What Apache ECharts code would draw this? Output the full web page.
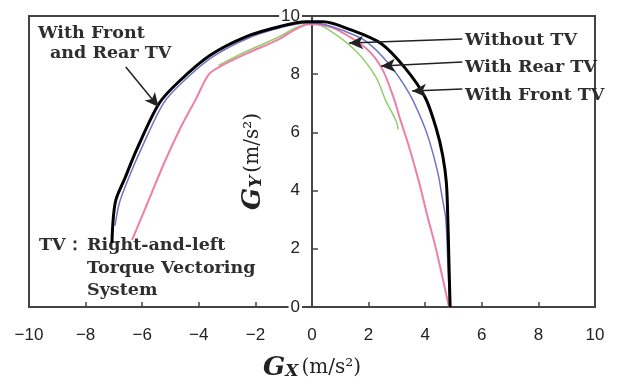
<!DOCTYPE html>
<html>
<head>
<meta charset="utf-8">
<style>
  html, body { margin: 0; padding: 0; background: #fff; }
  #chart { width: 620px; height: 384px; }
</style>
<script src="https://cdn.jsdelivr.net/npm/echarts@6/dist/echarts.min.js"></script>
</head>
<body>
<div id="chart"></div>
<script>
// Friction-circle envelopes: longitudinal Gx vs lateral Gy (m/s^2)
const xTicks = [-10, -8, -6, -4, -2, 0, 2, 4, 6, 8, 10];
const yTicks = [0, 2, 4, 6, 8, 10];

// With Front and Rear TV
const frontRearGx = [-7.07, -6.95, -6.6, -6.2, -5.4, -4.7, -3.6, -2.3, -1.1, -0.2, 0.4, 1.3, 2.45, 3.3, 4.0, 4.4, 4.62, 4.75, 4.8, 4.84, 4.88];
const frontRearGy = [2.2, 3.6, 4.45, 5.4, 7.0, 7.75, 8.65, 9.3, 9.65, 9.8, 9.8, 9.55, 9.05, 8.2, 7.2, 6.1, 5.2, 4.25, 3.0, 1.5, 0];

// With Front TV
const frontGx = [-6.96, -6.8, -6.45, -6.05, -5.25, -4.55, -3.5, -2.3, -1.1, -0.2, 0.4, 1.1, 1.9, 2.72, 3.43, 3.89, 4.15, 4.45, 4.6, 4.73, 4.8, 4.87];
const frontGy = [2.8, 3.6, 4.5, 5.4, 7.0, 7.75, 8.6, 9.22, 9.6, 9.76, 9.72, 9.5, 9.14, 8.35, 7.35, 6.4, 5.7, 4.6, 3.77, 3.0, 1.5, 0];

// With Rear TV
const rearGx = [-6.36, -5.8, -5.2, -4.65, -4.1, -3.64, -3.18, -2.33, -1.17, -0.57, -0.1, 0.4, 0.95, 1.9, 2.47, 2.9, 3.1, 3.4, 3.78, 4.06, 4.38, 4.84];
const rearGy = [2.3, 3.6, 5.0, 6.15, 7.15, 8.0, 8.3, 8.7, 9.2, 9.55, 9.72, 9.68, 9.5, 8.9, 8.2, 7.15, 6.5, 5.6, 4.3, 3.2, 2.0, 0];

// Without TV
const withoutGx = [-3.3, -2.33, -1.17, -0.57, 0.0, 0.5, 1.55, 2.26, 2.6, 2.97, 3.05];
const withoutGy = [8.3, 8.78, 9.28, 9.6, 9.76, 9.58, 8.8, 7.9, 7.1, 6.4, 6.1];

// Leader arrows (tail, head) in data units
const arrowTails = [[-6.58, 8.25], [5.31, 9.21], [5.31, 8.42], [5.31, 7.49]];
const arrowHeads = [[-5.42, 6.87], [1.31, 9.07], [2.44, 8.28], [3.54, 7.42]];

const pairs = (xs, ys) => xs.map((x, i) => [x, ys[i]]);

const serif = '"DejaVu Serif", serif';
const sans = '"Liberation Sans", Arial, sans-serif';
const ink = '#2e2e2e';

const W = 620, gridLeft = 29, gridRight = 25;
const xMin = xTicks[0], xMax = xTicks[xTicks.length - 1];
// shift the vertical axis from the left edge of the plot to Gx = 0
const yAxisShift = -(W - gridLeft - gridRight) * (0 - xMin) / (xMax - xMin);

const chart = echarts.init(document.getElementById('chart'), null, { renderer: 'canvas' });

const lineSeries = (name, xs, ys, color, width) => ({
  name, type: 'line', data: pairs(xs, ys),
  showSymbol: false, smooth: 0.3, animation: false, silent: true,
  lineStyle: { color, width }, z: 2
});

const blackSeries = lineSeries('With Front and Rear TV', frontRearGx, frontRearGy, '#000', 3);
blackSeries.markLine = {
  silent: true, animation: false,
  symbol: ['none', 'arrow'], symbolSize: [10, 14],
  lineStyle: { color: '#222', width: 1.5, type: 'solid' },
  label: { show: false },
  data: arrowTails.map((t, i) => [{ coord: t }, { coord: arrowHeads[i] }])
};

const nameRich = {
  g: { fontFamily: serif, fontStyle: 'italic', fontWeight: 'bold', fontSize: 26, color: '#222' },
  x: { fontFamily: serif, fontStyle: 'italic', fontWeight: 'bold', fontSize: 17, color: '#222', padding: [7, 3, 0, 0] },
  u: { fontFamily: serif, fontSize: 20, color: '#222' }
};

chart.setOption({
  backgroundColor: '#fff',
  animation: false,
  grid: {
    left: gridLeft, right: gridRight, top: 16, bottom: 77,
    containLabel: false, outerBoundsMode: 'none',
    show: true, borderColor: '#444', borderWidth: 2, backgroundColor: 'transparent'
  },
  xAxis: {
    type: 'value', min: xMin, max: xMax, interval: 2,
    axisLine: { show: false },
    axisTick: { show: true, inside: true, length: 5, lineStyle: { color: '#444', width: 1.5 } },
    splitLine: { show: false },
    axisLabel: {
      margin: 20, color: '#222', fontFamily: sans, fontSize: 17,
      formatter: v => String(v).replace('-', '\u2212')
    },
    name: '{g|G}{x|X}{u|(m/s²)}',
    nameLocation: 'middle', nameGap: 48,
    nameTextStyle: { rich: nameRich }
  },
  yAxis: {
    type: 'value', min: yTicks[0], max: yTicks[yTicks.length - 1], interval: 2,
    position: 'left', offset: yAxisShift,
    axisLine: { show: true, onZero: false, lineStyle: { color: '#444', width: 2 } },
    axisTick: { show: true, inside: true, length: 6, lineStyle: { color: '#444', width: 1.5 } },
    splitLine: { show: false },
    axisLabel: {
      margin: 10, color: '#222', fontFamily: sans, fontSize: 17,
      backgroundColor: '#fff', padding: [0, 2]
    },
    name: '{g|G}{x|Y}{u|(m/s²)}',
    nameLocation: 'middle', nameGap: 46, nameRotate: 90,
    nameTextStyle: { rich: nameRich }
  },
  series: [
    lineSeries('Without TV', withoutGx, withoutGy, '#8fd06a', 1.5),
    lineSeries('With Rear TV', rearGx, rearGy, '#ee80a8', 2),
    lineSeries('With Front TV', frontGx, frontGy, '#6f74c4', 1.5),
    blackSeries
  ],
  graphic: [
    { type: 'text', left: 38, top: 24, style: { text: 'With Front', font: `bold 17.5px ${serif}`, fill: ink } },
    { type: 'text', left: 50, top: 44, style: { text: 'and Rear TV', font: `bold 17.5px ${serif}`, fill: ink } },
    { type: 'text', left: 465, top: 31, style: { text: 'Without TV', font: `bold 17.5px ${serif}`, fill: ink } },
    { type: 'text', left: 465, top: 58, style: { text: 'With Rear TV', font: `bold 17.5px ${serif}`, fill: ink } },
    { type: 'text', left: 465, top: 86, style: { text: 'With Front TV', font: `bold 17.5px ${serif}`, fill: ink } },
    { type: 'text', left: 39, top: 236, style: { text: 'TV：', font: `bold 17.5px ${serif}`, fill: ink } },
    { type: 'text', left: 87, top: 236, style: { text: 'Right-and-left', font: `bold 17.5px ${serif}`, fill: ink } },
    { type: 'text', left: 87, top: 259, style: { text: 'Torque Vectoring', font: `bold 17.5px ${serif}`, fill: ink } },
    { type: 'text', left: 87, top: 281, style: { text: 'System', font: `bold 17.5px ${serif}`, fill: ink } }
  ]
});
</script>
</body>
</html>
